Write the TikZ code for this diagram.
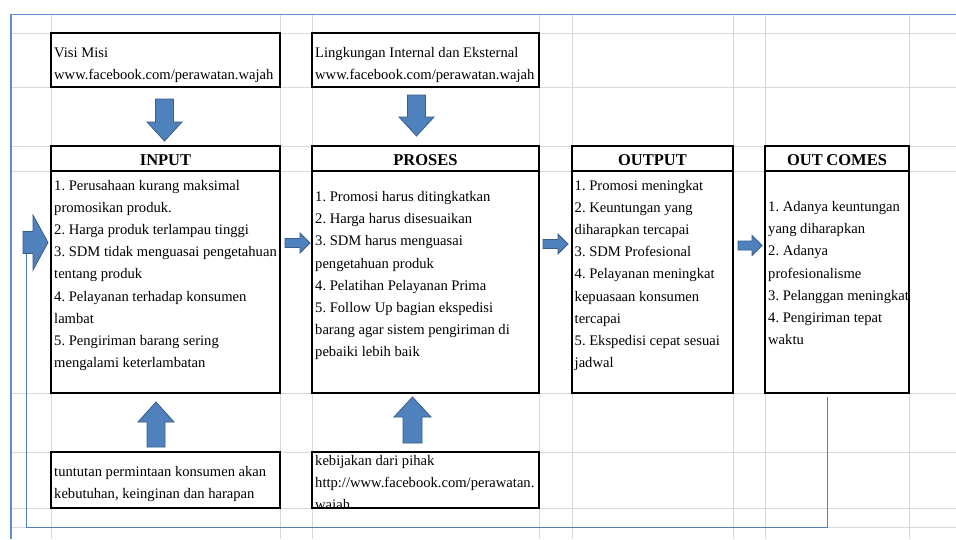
\documentclass[tikz,border=0pt]{standalone}
\usepackage{fontspec}
\setmainfont{Liberation Serif}
\frenchspacing
\definecolor{gridc}{RGB}{217,217,217}
\definecolor{framec}{RGB}{95,142,205}
\definecolor{blkfill}{RGB}{79,129,189}
\definecolor{blkline}{RGB}{56,93,138}
\definecolor{connc}{RGB}{84,125,185}
\tikzset{
  gridl/.style={draw=gridc, line width=1pt},
  framel/.style={draw=framec, line width=1.6pt},
  box/.style={draw=black, line width=1.3pt, fill=white, rectangle, inner sep=0pt, outer sep=0pt},
  divl/.style={draw=black, line width=1.3pt},
  bodytxt/.style={font=\fontsize{14.6}{22.2}\selectfont\frenchspacing, inner sep=0pt, align=flush left, text width=250pt, anchor=base west},
  headtxt/.style={font=\fontsize{16.5}{20}\selectfont\bfseries, inner sep=0pt, anchor=base},
  blk/.style={fill=blkfill, draw=blkline, line width=0.8pt, line join=miter},
  conn/.style={draw=connc, line width=1pt}
}
\begin{document}
\begin{tikzpicture}[x=1pt,y=-1pt]
\useasboundingbox (0,0) rectangle (956,539);
\fill[white] (0,0) rectangle (956,539);
% spreadsheet grid
\foreach \gx in {51,280,312,539,572,733,765,909} \draw[gridl] (\gx,14) -- (\gx,539);
\foreach \gy in {33,87,146,171,393,452,508,527} \draw[gridl] (11,\gy) -- (956,\gy);
% frame
\draw[framel] (11,539) -- (11,14.5) -- (956,14.5);
% boxes
\node[box, minimum width=229pt, minimum height=54pt] (visi) at (165.5,60) {};
\node[box, minimum width=227pt, minimum height=54pt] (ling) at (425.5,60) {};
\node[box, minimum width=229pt, minimum height=247pt] (input) at (165.5,269.5) {};
\node[box, minimum width=227pt, minimum height=247pt] (proses) at (425.5,269.5) {};
\node[box, minimum width=161pt, minimum height=247pt] (output) at (652.5,269.5) {};
\node[box, minimum width=144pt, minimum height=247pt] (outc) at (837,269.5) {};
\node[box, minimum width=229pt, minimum height=56pt] (tunt) at (165.5,480) {};
\node[box, minimum width=227pt, minimum height=56pt] (kebi) at (425.5,480) {};
% header dividers
\draw[divl] (input.north west) ++(0,25) -- ++(229,0);
\draw[divl] (proses.north west) ++(0,25) -- ++(227,0);
\draw[divl] (output.north west) ++(0,25) -- ++(161,0);
\draw[divl] (outc.north west) ++(0,25) -- ++(144,0);
% headers
\node[headtxt] (inputh) at (165.5,165.5) {INPUT};
\node[headtxt] (prosesh) at (425.5,165.5) {PROSES};
\node[headtxt] (outputh) at (652.5,165.5) {OUTPUT};
\node[headtxt] (outch) at (837,165.5) {OUT\kern-0.5pt\ COMES};
% texts
\node[bodytxt] (visit) at (54,57.3) {Visi Misi\\www.facebook.com/perawatan.wajah};
\node[bodytxt] (lingt) at (315,57.3) {Lingkungan Internal dan Eksternal\\www.facebook.com/perawatan.wajah};
\node[bodytxt] (inputt) at (54,190) {1. Perusahaan kurang maksimal\\
promosikan produk.\\
2. Harga produk terlampau tinggi\\
3. SDM tidak menguasai pengetahuan\\
tentang produk\\
4. Pelayanan terhadap konsumen\\
lambat\\
5. Pengiriman barang sering\\
mengalami keterlambatan};
\node[bodytxt] (prosest) at (315,201.5) {1. Promosi harus ditingkatkan\\
2. Harga harus disesuaikan\\
3. SDM harus menguasai\\
pengetahuan produk\\
4. Pelatihan Pelayanan Prima\\
5. Follow Up bagian ekspedisi\\
barang agar sistem pengiriman di\\
pebaiki lebih baik};
\node[bodytxt] (outputt) at (574.5,190) {1. Promosi meningkat\\
2. Keuntungan yang\\
diharapkan tercapai\\
3. SDM Profesional\\
4. Pelayanan meningkat\\
kepuasaan konsumen\\
tercapai\\
5. Ekspedisi cepat sesuai\\
jadwal};
\node[bodytxt] (outct) at (768,211.5) {1. Adanya keuntungan\\
yang diharapkan\\
2. Adanya\\
profesionalisme\\
3. Pelanggan meningkat\\
4. Pengiriman tepat\\
waktu};
\node[bodytxt] (tuntt) at (54,476.7) {tuntutan permintaan konsumen akan\\kebutuhan, keinginan dan harapan};
\begin{scope}
\clip (kebi.north west) rectangle (kebi.south east);
\node[bodytxt] (kebit) at (315,465.5) {kebijakan dari pihak\\http://www.facebook.com/perawatan.\\wajah};
\end{scope}
\draw[divl] (kebi.north west) rectangle (kebi.south east);
% block arrows
% left arrow
\path[blk] (23,231.5) -- (33,231.5) -- (33,215) -- (48,242.5) -- (33,270) -- (33,253.5) -- (23,253.5) -- cycle;
% right arrows between boxes
\path[blk] (285,238.5) -- (300,238.5) -- (300,233) -- (310,243) -- (300,253) -- (300,247.5) -- (285,247.5) -- cycle;
\path[blk] (543,239.5) -- (558,239.5) -- (558,234) -- (568,244) -- (558,254) -- (558,248.5) -- (543,248.5) -- cycle;
\path[blk] (738,241) -- (752,241) -- (752,235.5) -- (762,245.5) -- (752,255.5) -- (752,250) -- (738,250) -- cycle;
% down arrows
\path[blk] (155.5,99) -- (173.5,99) -- (173.5,122) -- (182,122) -- (164.5,141) -- (147,122) -- (155.5,122) -- cycle;
\path[blk] (407.5,95) -- (425.5,95) -- (425.5,117) -- (434,117) -- (416.5,136) -- (399,117) -- (407.5,117) -- cycle;
% up arrows
\path[blk] (147,447) -- (165,447) -- (165,422) -- (174,422) -- (156,402) -- (138,422) -- (147,422) -- cycle;
\path[blk] (403,443) -- (422,443) -- (422,417) -- (431,417) -- (412.5,397) -- (394,417) -- (403,417) -- cycle;
% feedback connector
\coordinate (cstart) at (26,254);
\coordinate (cend) at (827,397);
\draw[conn] (cstart) -- (cstart |- 0,527) -| (cend);
\end{tikzpicture}
\end{document}
